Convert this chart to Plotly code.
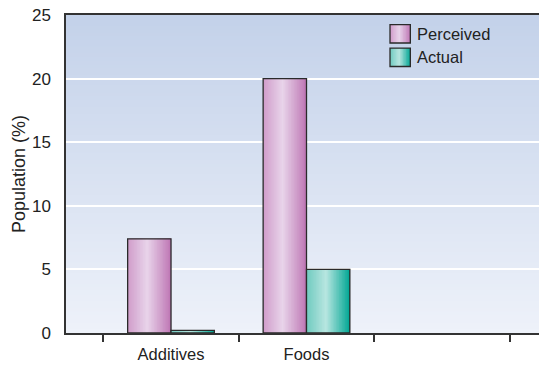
import numpy as np
import plotly.graph_objects as go

# Data
categories = ["Additives", "Foods", " "]
perceived = [7.4, 20.0, None]
actual = [0.2, 5.0, None]
series_names = ["Perceived", "Actual"]

# Horizontal shading for each series: (position, rgb) stops, left -> right
shade_perceived = [(0.0, (208, 156, 202)), (0.45, (232, 212, 234)), (1.0, (190, 118, 180))]
shade_actual = [(0.0, (112, 202, 192)), (0.45, (184, 230, 224)), (1.0, (0, 166, 148))]

BAR_W = 0.32
N_SLICES = 28
OUTLINE = "#2a2a2a"
FONT = "Liberation Sans, Arial, sans-serif"


def shade_at(stops, t):
    for (p0, c0), (p1, c1) in zip(stops[:-1], stops[1:]):
        if p0 <= t <= p1:
            f = (t - p0) / (p1 - p0) if p1 > p0 else 0
            r, g, b = (int(round(a + (bb - a) * f)) for a, bb in zip(c0, c1))
            return f"rgb({r},{g},{b})"
    r, g, b = stops[-1][1]
    return f"rgb({r},{g},{b})"


fig = go.Figure()


def add_shaded_bars(values, offset, stops, name):
    # each slice runs from its start to the bar's right edge, painted left to right
    for i in range(N_SLICES):
        t = (i + 0.5) / N_SLICES
        start = offset + BAR_W * i / N_SLICES
        fig.add_trace(go.Bar(
            x=categories, y=values,
            offset=start, width=BAR_W - BAR_W * i / N_SLICES,
            marker=dict(color=shade_at(stops, t), line=dict(width=0)),
            showlegend=False, hoverinfo="skip", name=name,
        ))
    # outline
    fig.add_trace(go.Bar(
        x=categories, y=values, offset=offset, width=BAR_W,
        marker=dict(color="rgba(0,0,0,0)", line=dict(color=OUTLINE, width=1.3)),
        showlegend=False, name=name,
    ))


add_shaded_bars(perceived, -BAR_W, shade_perceived, series_names[0])
add_shaded_bars(actual, 0.0, shade_actual, series_names[1])

shapes = []
# plot background: vertical wash from pale at the bottom to soft blue at the top
top_rgb = np.array([196, 210, 234])
bot_rgb = np.array([238, 242, 250])
N_BG = 90
for i in range(N_BG):
    f = i / (N_BG - 1)
    c = bot_rgb + (top_rgb - bot_rgb) * f
    shapes.append(dict(
        type="rect", xref="paper", yref="paper", x0=0, x1=1, y0=i / N_BG, y1=1,
        fillcolor=f"rgb({int(c[0])},{int(c[1])},{int(c[2])})",
        line=dict(width=0), layer="below",
    ))

# legend swatches
annotations = []
sw_x0, sw_x1 = 0.685, 0.728
rows = [(0.912, 0.970), (0.838, 0.896)]
for (y0, y1), stops, name in zip(rows, [shade_perceived, shade_actual], series_names):
    n = 14
    for i in range(n):
        t = (i + 0.5) / n
        shapes.append(dict(
            type="rect", xref="paper", yref="paper",
            x0=sw_x0 + (sw_x1 - sw_x0) * i / n, x1=sw_x1, y0=y0, y1=y1,
            fillcolor=shade_at(stops, t), line=dict(width=0), layer="above",
        ))
    shapes.append(dict(
        type="rect", xref="paper", yref="paper", x0=sw_x0, x1=sw_x1, y0=y0, y1=y1,
        fillcolor="rgba(0,0,0,0)", line=dict(color=OUTLINE, width=1.3), layer="above",
    ))
    annotations.append(dict(
        xref="paper", yref="paper", x=sw_x1 + 0.010, y=(y0 + y1) / 2,
        text=name, showarrow=False, xanchor="left", yanchor="middle",
        font=dict(family=FONT, size=16.5, color="#222"),
    ))

fig.update_layout(
    width=539, height=368,
    margin=dict(l=66, r=0, t=15, b=35),
    barmode="overlay",
    paper_bgcolor="white",
    plot_bgcolor="rgba(0,0,0,0)",
    showlegend=False,
    shapes=shapes,
    annotations=annotations,
    font=dict(family=FONT, color="#222"),
)

fig.update_xaxes(
    type="category", categoryorder="array", categoryarray=categories,
    range=[-0.775, 2.716],
    tickson="boundaries", ticks="outside", ticklen=7, tickwidth=1.5, tickcolor="#333",
    ticklabelstandoff=5,
    showgrid=False, showline=True, linecolor="#333", linewidth=1.5, mirror=True,
    tickfont=dict(family=FONT, size=16.5, color="#222"),
    zeroline=False,
)
fig.update_yaxes(
    range=[0, 25], dtick=5, tick0=0,
    showgrid=True, gridcolor="white", gridwidth=1.6,
    ticks="", ticklabelstandoff=10,
    showline=True, linecolor="#333", linewidth=1.5,
    zeroline=False,
    tickfont=dict(family=FONT, size=17, color="#222"),
    title=dict(text="Population (%)", font=dict(family=FONT, size=18, color="#222"), standoff=2),
)

fig.write_html("out.html")
